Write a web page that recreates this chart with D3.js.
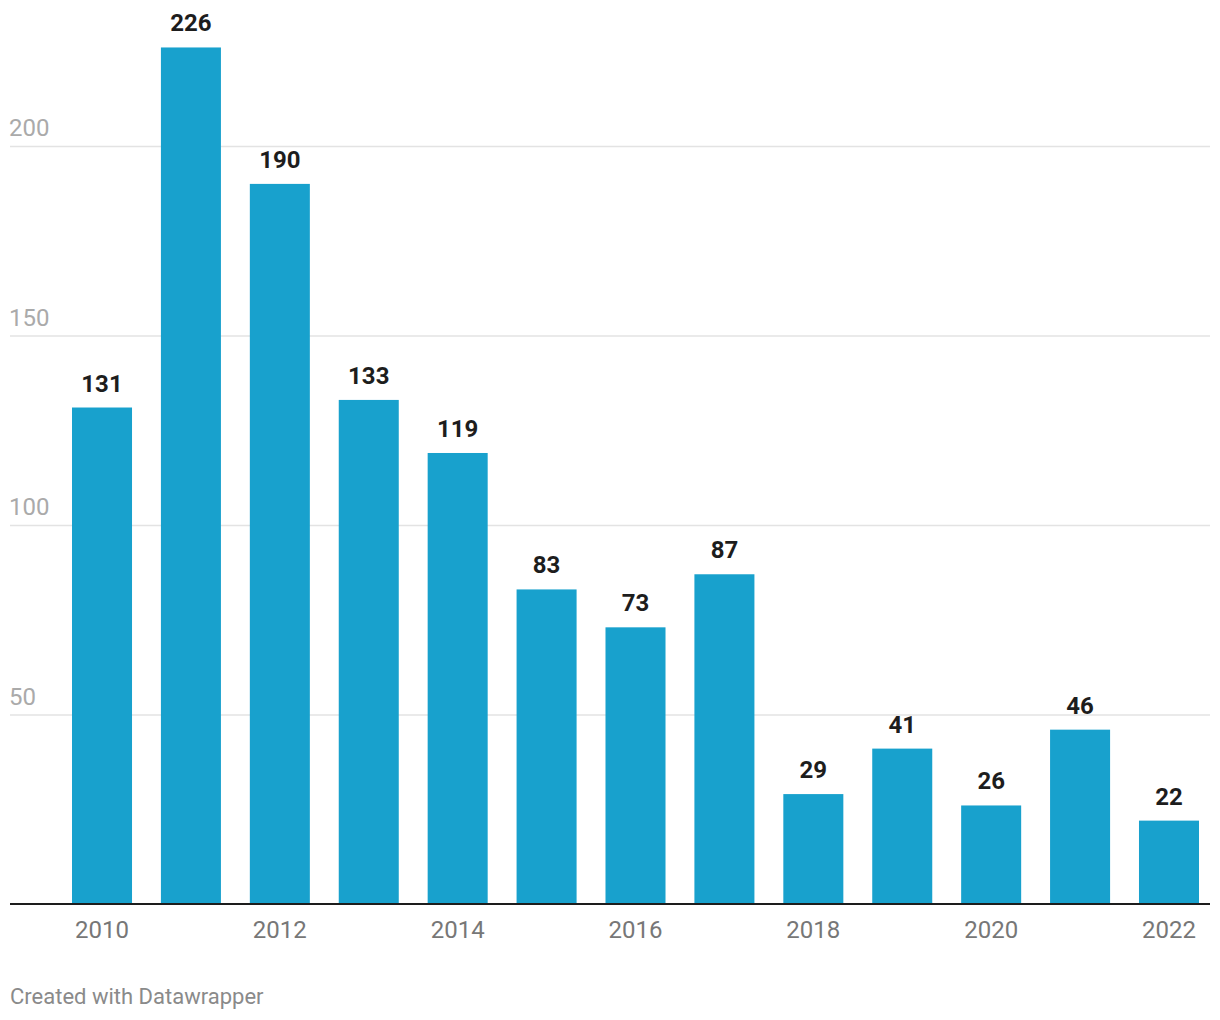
<!DOCTYPE html>
<html><head><meta charset="utf-8">
<script src="https://cdn.jsdelivr.net/npm/d3@7"></script>
<style>body{margin:0;background:#fff;font-family:Roboto,sans-serif}</style>
</head><body>
<svg id="c" width="1220" height="1020"></svg>
<script>
const years = [2010,2011,2012,2013,2014,2015,2016,2017,2018,2019,2020,2021,2022];
const values = [131,226,190,133,119,83,73,87,29,41,26,46,22];
const yTicks = [50,100,150,200];
const xTickLabels = [2010,2012,2014,2016,2018,2020,2022];

const svg = d3.select('#c');
const x = d3.scaleBand().domain(years).range([72,1199]).paddingInner(0.325).paddingOuter(0);
const y = d3.scaleLinear().domain([0,200]).range([904,146]);

// gridlines
svg.append('g').selectAll('line').data(yTicks).join('line')
  .attr('x1',10).attr('x2',1210)
  .attr('y1',d=>y(d)+0.5).attr('y2',d=>y(d)+0.5)
  .attr('stroke','#e3e3e3').attr('stroke-width',1.5);
svg.append('g').selectAll('text').data(yTicks).join('text')
  .attr('x',9).attr('y',d=>y(d)-10)
  .attr('font-size',24).attr('fill','#aaaaaa').text(d=>d);

// bars
svg.append('g').selectAll('rect').data(values).join('rect')
  .attr('x',(d,i)=>x(years[i])).attr('width',x.bandwidth())
  .attr('y',d=>y(d)).attr('height',d=>y(0)-y(d))
  .attr('fill','#18a1cd');
svg.append('g').selectAll('text').data(values).join('text')
  .attr('x',(d,i)=>x(years[i])+x.bandwidth()/2).attr('y',d=>y(d)-16)
  .attr('text-anchor','middle').attr('font-size',24).attr('font-weight','bold')
  .attr('fill','#1d1d1d').text(d=>d);

// baseline
svg.append('line').attr('x1',10).attr('x2',1210).attr('y1',y(0)).attr('y2',y(0))
  .attr('stroke','#1d1d1d').attr('stroke-width',2);

// x labels
svg.append('g').selectAll('text').data(xTickLabels).join('text')
  .attr('x',d=>x(d)+x.bandwidth()/2).attr('y',938)
  .attr('text-anchor','middle').attr('font-size',24).attr('fill','#777777').text(d=>d);

svg.append('text').attr('x',10).attr('y',1004).attr('font-size',22).attr('fill','#8a8a8a')
  .text('Created with Datawrapper');
</script>
</body></html>
